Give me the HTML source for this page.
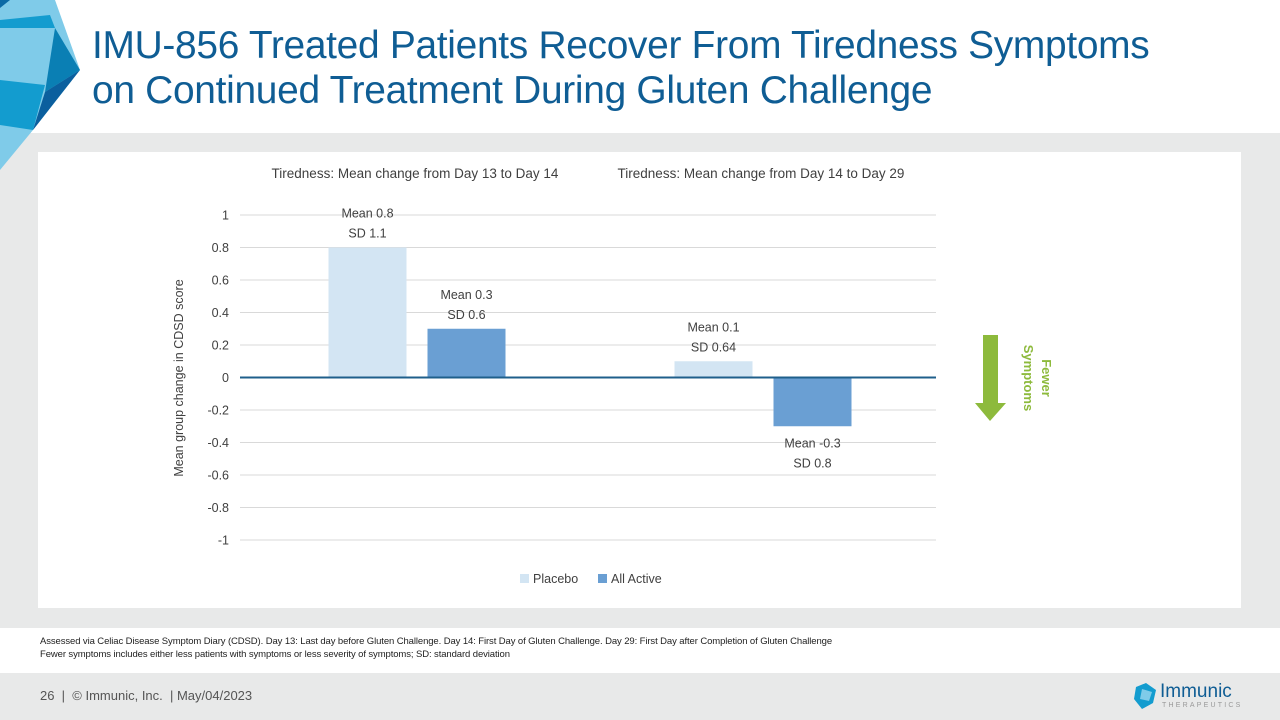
<!DOCTYPE html>
<html><head><meta charset="utf-8"><style>
body{margin:0;width:1280px;height:720px;overflow:hidden;font-family:"Liberation Sans",sans-serif;background:#fff;position:relative}
.abs{position:absolute}
</style></head><body>
<svg class="abs" style="left:0;top:0" width="1280" height="720">
  <rect x="0" y="133" width="1280" height="495" fill="#e8e9e9"/>
  <rect x="0" y="673" width="1280" height="47" fill="#e8e9e9"/>
  <rect x="38" y="152" width="1203" height="456" fill="#fff"/>
  <g>
    <polygon points="0,0 55,0 80,70 33,130 0,170" fill="#7fcbe9"/>
    <polygon points="0,0 10,0 0,8" fill="#0b6aa6"/>
    <polygon points="0,20 50,15 55,28 0,28" fill="#139ccf"/>
    <polygon points="0,80 45,85 33,130 0,125" fill="#139ccf"/>
    <polygon points="55,28 80,70 45,92" fill="#0a7fb4"/>
    <polygon points="45,92 80,70 33,130" fill="#0b5f9e"/>
  </g>
</svg>
<div class="abs" style="left:92px;top:23px;color:#0f5d94;font-size:38.9px;line-height:45px;letter-spacing:-0.3px">IMU-856 Treated Patients Recover From Tiredness Symptoms<br>on Continued Treatment During Gluten Challenge</div>
<svg class="abs" style="left:0;top:0" width="1280" height="720" id="chart" font-family="Liberation Sans, sans-serif"></svg>
<div class="abs" style="left:40px;top:635px;font-size:9.5px;line-height:13px;color:#222;letter-spacing:-0.1px">Assessed via Celiac Disease Symptom Diary (CDSD). Day 13: Last day before Gluten Challenge. Day 14: First Day of Gluten Challenge. Day 29: First Day after Completion of Gluten Challenge<br>Fewer symptoms includes either less patients with symptoms or less severity of symptoms; SD: standard deviation</div>
<div class="abs" style="left:40px;top:688px;font-size:13px;color:#555">26 &nbsp;| &nbsp;© Immunic, Inc. &nbsp;| May/04/2023</div>
<div class="abs" style="left:1132px;top:681px;width:110px;height:30px">
  <svg width="26" height="30" style="position:absolute;left:0;top:0"><polygon points="4,6 14,2 24,9 21,22 10,28 2,18" fill="#139ccf"/><polygon points="10,8 20,11 17,20 8,18" fill="#7fcbe9"/></svg>
  <div style="position:absolute;left:28px;top:0;font-size:19px;color:#0f5d94">Immunic</div>
  <div style="position:absolute;left:30px;top:21px;font-size:7px;letter-spacing:2.2px;color:#999">THERAPEUTICS</div>
</div>
<script>
const categories=["Tiredness: Mean change from Day 13 to Day 14","Tiredness: Mean change from Day 14 to Day 29"];
const seriesNames=["Placebo","All Active"];
const placebo=[0.8,0.1];
const active=[0.3,-0.3];
const placeboSD=["1.1","0.64"];
const activeSD=["0.6","0.8"];
const ticks=[1,0.8,0.6,0.4,0.2,0,-0.2,-0.4,-0.6,-0.8,-1];
const colors=["#d3e5f3","#6a9fd3"];
const svg=document.getElementById('chart');
const NS="http://www.w3.org/2000/svg";
const X0=240,X1=936,yTop=215,yBot=540,B0=244;
const y=v=>yTop+(1-v)*(yBot-yTop)/2;
const gw=(X1-B0)/categories.length;
function el(t,a,txt){const e=document.createElementNS(NS,t);for(const k in a)e.setAttribute(k,a[k]);if(txt!==undefined)e.textContent=txt;svg.appendChild(e);return e;}
ticks.forEach(t=>{
  if(t!==0){const g=el('line',{x1:X0,x2:X1,y1:y(t),y2:y(t),stroke:'#d9d9d9','stroke-width':1});
  
  }
  const l=el('text',{x:229,y:y(t)+4.5,'text-anchor':'end','font-size':12.5,fill:'#404040'},String(t));
  
  
});
const yt=el('text',{transform:`translate(183,378) rotate(-90)`,'text-anchor':'middle','font-size':12.5,fill:'#404040'},'Mean group change in CDSD score');


const bw=78,gap=21;
categories.forEach((c,i)=>{
  const cx=B0+gw*(i+0.5);
  const ct=el('text',{x:cx-2,y:178,'text-anchor':'middle','font-size':13.5,fill:'#404040'},c);
  
  
  [[placebo,placeboSD,0],[active,activeSD,1]].forEach(([vals,sds,s])=>{
    const v=vals[i];const bx=s===0?cx-gap/2-bw:cx+gap/2;
    const r=el('rect',{x:bx,y:Math.min(y(v),y(0)),width:bw,height:Math.abs(y(v)-y(0)),fill:colors[s]});
    
    
    const ly=v>=0?y(v)-30:y(v)+21;
    const t1=el('text',{x:bx+bw/2,y:ly,'text-anchor':'middle','font-size':12.5,fill:'#404040'},'Mean '+v);
    
    
    const t2=el('text',{x:bx+bw/2,y:ly+20,'text-anchor':'middle','font-size':12.5,fill:'#404040'},'SD '+sds[i]);
    
    
  });
});
const zl=el('line',{x1:X0,x2:X1,y1:y(0),y2:y(0),stroke:'#1f5f8b','stroke-width':2});


[[520,0],[598,1]].forEach(([lx,s])=>{
  const sw=el('rect',{x:lx,y:574,width:9,height:9,fill:colors[s]});
  
  
  const lt=el('text',{x:lx+13,y:583,'font-size':12.5,fill:'#404040'},seriesNames[s]);
  
  
});
const ar=el('polygon',{points:'983,335 998,335 998,403 1006,403 990,421 975,403 983,403',fill:'#8dba3c'});


const at=el('text',{transform:'translate(1036,378) rotate(90)','text-anchor':'middle','font-size':13,'font-weight':'bold',fill:'#8dba3c'});


const s1=document.createElementNS(NS,'tspan');s1.setAttribute('x',0);s1.setAttribute('dy',-6);s1.textContent='Fewer';at.appendChild(s1);
const s2=document.createElementNS(NS,'tspan');s2.setAttribute('x',0);s2.setAttribute('dy',18);s2.textContent='Symptoms';at.appendChild(s2);
</script>
</body></html>
